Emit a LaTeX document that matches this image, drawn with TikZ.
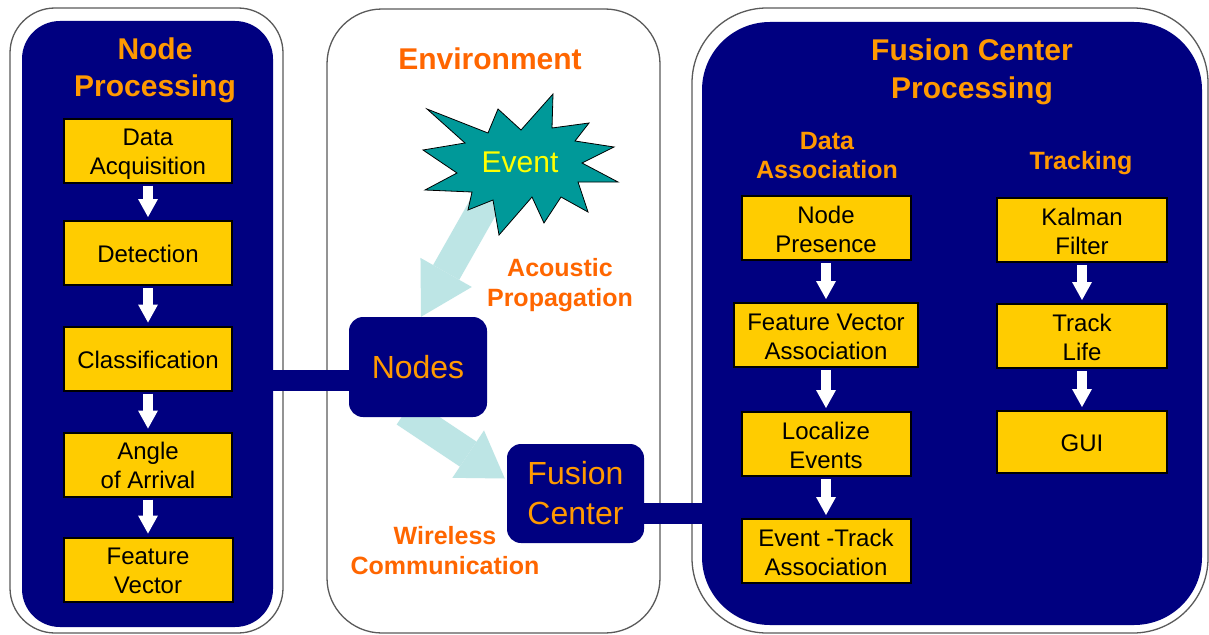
\documentclass[tikz,border=0pt]{standalone}
\usepackage{fontspec}
\setmainfont{Liberation Sans}
\usetikzlibrary{arrows.meta,calc}
\definecolor{navyb}{RGB}{0,0,128}
\definecolor{boxy}{RGB}{255,204,0}
\definecolor{orgA}{RGB}{255,153,0}
\definecolor{orgB}{RGB}{255,102,0}
\definecolor{tealstar}{RGB}{0,153,153}
\definecolor{pale}{RGB}{189,229,229}
\definecolor{evy}{RGB}{255,255,0}
\definecolor{rimgray}{RGB}{90,90,90}
\newcommand\boxstrut{\rule[-4.3pt]{0pt}{27.8pt}}
\pgfdeclarelayer{panels}
\pgfdeclarelayer{flows}
\pgfsetlayers{panels,flows,main}
\begin{document}
\begin{tikzpicture}[x=1pt,y=-1pt,
  outerp/.style={draw=rimgray, line width=1.3pt, fill=white, inner sep=0pt},
  innerp/.style={fill=navyb, inner sep=0pt},
  box/.style={draw=black, line width=2pt, fill=boxy, minimum height=64pt, inner sep=0pt,
    align=center, text=black, font=\fontsize{24}{29}\selectfont},
  ttl/.style={text=orgA, font=\fontsize{30}{37}\selectfont\bfseries, align=center, inner sep=0pt},
  sub/.style={text=orgA, font=\fontsize{25}{29}\selectfont\bfseries, align=center, inner sep=0pt},
  lbl/.style={text=orgB, font=\fontsize{25}{30}\selectfont\bfseries, align=center, inner sep=0pt},
  hub/.style={fill=navyb, rounded corners=14pt, inner sep=0pt, text=orgA,
    font=\fontsize{32}{40}\selectfont, align=center},
  warrow/.style={draw=white, line width=10pt, -{Triangle[length=18pt,width=20pt,line width=0pt]},
    shorten <=2pt, shorten >=3pt},
  flowarrow/.style={draw=pale, line width=30pt},
  bar/.style={draw=navyb, line width=21pt},
]
\useasboundingbox (0,0) rectangle (1209,634);
\begin{pgfonlayer}{panels}
\node[outerp, rounded corners=45pt, minimum width=273pt, minimum height=625pt] (lpo) at (146.5,320.5) {};
\node[innerp, rounded corners=38pt, minimum width=251pt, minimum height=606pt] (lpi) at (147.5,324) {};
\node[outerp, rounded corners=55pt, minimum width=333pt, minimum height=624pt] (mpo) at (493.5,321) {};
\node[outerp, rounded corners=75pt, minimum width=516pt, minimum height=625pt] (rpo) at (950,320.5) {};
\node[innerp, rounded corners=68pt, minimum width=500pt, minimum height=603pt] (rpi) at (952,323.5) {};
\end{pgfonlayer}

% titles
\node[ttl] (ttlnp) at (155,70) {Node\\Processing};
\node[ttl, text=orgB] (ttlenv) at (490,59) {Environment};
\node[ttl, font=\fontsize{30}{38}\selectfont\bfseries] (ttlfc) at (972,72) {Fusion Center\\Processing};
\node[sub] (ttlda) at (827,156) {Data\\Association};
\node[sub] (ttltr) at (1081,163) {Tracking};
\node[lbl] (acp) at (560,285) {Acoustic\\Propagation};
\node[lbl] (wlc) at (445,551) {Wireless\\Communication};

% node processing column
\node[box, minimum width=168pt] (acq) at (148,150.5) {\boxstrut Data\\\boxstrut Acquisition};
\node[box, minimum width=168pt] (det) at (148,253) {\boxstrut Detection};
\node[box, minimum width=168pt] (cls) at (148,358.5) {\boxstrut Classification};
\node[box, minimum width=168pt] (aoa) at (148,464.5) {\boxstrut Angle\\\boxstrut of Arrival};
\node[box, minimum width=169pt] (fv) at (148,569.5) {\boxstrut Feature\\\boxstrut Vector};
\draw[warrow] (acq.south) -- (det.north);
\draw[warrow] (det.south) -- (cls.north);
\draw[warrow] (cls.south) -- (aoa.north);
\draw[warrow] (aoa.south) -- (fv.north);

% data association column
\node[box, minimum width=169pt] (np) at (826,228) {\boxstrut Node\\\boxstrut Presence};
\node[box, minimum width=184pt] (fva) at (826,335) {\boxstrut Feature Vector\\\boxstrut Association};
\node[box, minimum width=169pt] (le) at (826,444) {\boxstrut Localize\\\boxstrut Events};
\node[box, minimum width=169pt] (eta) at (826,551) {\boxstrut Event -Track\\\boxstrut Association};
\draw[warrow] (np.south) -- (fva.north);
\draw[warrow] (fva.south) -- (le.north);
\draw[warrow] (le.south) -- (eta.north);

% tracking column
\node[box, minimum width=170pt] (kf) at (1082,230) {\boxstrut Kalman\\\boxstrut Filter};
\node[box, minimum width=170pt] (tl) at (1082,336) {\boxstrut Track\\\boxstrut Life};
\node[box, minimum width=170pt, minimum height=62pt] (gui) at (1082,442) {\boxstrut GUI};
\draw[warrow] (kf.south) -- (tl.north);
\draw[warrow] (tl.south) -- (gui.north);

% hubs
\node[hub, minimum width=138pt, minimum height=100pt] (nodes) at (418,367) {Nodes};
\node[hub, minimum width=137pt, minimum height=99pt] (fusion) at (575.5,493.5) {Fusion\\Center};
\draw[bar] ($(nodes.west)+(1,13.5)$) -- ++(-79,0);
\draw[bar] ($(fusion.east)+(-1,20)$) -- ++(62,0);

% flows
\begin{pgfonlayer}{flows}
\coordinate (acstart) at (507,165);
\draw[flowarrow, -{Triangle[length=51pt,width=59pt,line width=0pt]}] (acstart) -- ($(nodes.north)+(3,0)$);
\coordinate (wlstart) at (405,412);
\draw[flowarrow, -{Triangle[length=44pt,width=57pt,line width=0pt]}] (wlstart) -- ($(fusion.west)+(-2,-15)$);
\end{pgfonlayer}

% event star
\draw[fill=tealstar, draw=black, line width=0.8pt]
  (427,109) -- (488,133) -- (498,109) -- (521,130) -- (553,94) -- (552,128)
  -- (589,123) -- (575,141) -- (614,147) -- (582,163) -- (618,182) -- (578,182)
  -- (588,212) -- (561,197) -- (544,223) -- (532,197) -- (499,235) -- (493,200)
  -- (468,210) -- (472,192) -- (425,190) -- (457,173) -- (423,150) -- (465,143) -- cycle;
\node[text=evy, font=\fontsize{30}{36}\selectfont, inner sep=0pt] (event) at (520,162) {Event};
\end{tikzpicture}
\end{document}
